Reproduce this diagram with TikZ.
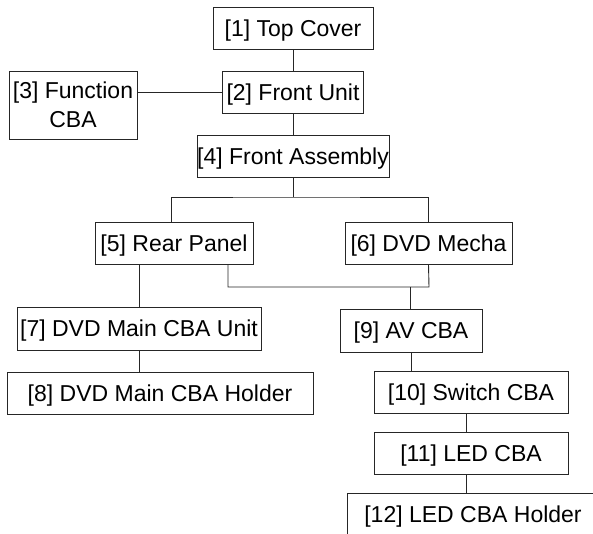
\documentclass[tikz,border=0pt]{standalone}
\usepackage{fontspec}
\setmainfont{Liberation Sans}
\begin{document}
\begin{tikzpicture}[x=1pt,y=-1pt,
  box/.style={draw=black!85, line width=0.9pt, rectangle, inner sep=0pt,
    font=\fontsize{23}{29}\selectfont, text=black, minimum height=42pt,
    text height=16.5pt, text depth=0pt},
  link/.style={draw=black!85, line width=0.9pt}]
\useasboundingbox (0,0) rectangle (593,533);
\clip (0,0) rectangle (593,533);
\node[box, minimum width=160pt] (n1) at (293,28) {[1] Top Cover};
\node[box, minimum width=141pt] (n2) at (293,92) {[2] Front Unit};
\node[box, minimum width=128pt, minimum height=68pt, align=center, text height=, text depth=] (n3) at (73,105) {[3] Function\\CBA};
\node[box, minimum width=192pt] (n4) at (293,156) {[4] Front Assembly};
\node[box, minimum width=158pt] (n5) at (174,243) {[5] Rear Panel};
\node[box, minimum width=167pt] (n6) at (428.5,243) {[6] DVD Mecha};
\node[box, minimum width=244pt, minimum height=43pt] (n7) at (139,328.5) {[7] DVD Main CBA Unit};
\node[box, minimum width=306pt] (n8) at (160,393) {[8] DVD Main CBA Holder};
\node[box, minimum width=142pt, minimum height=43pt] (n9) at (411,330.5) {[9] AV CBA};
\node[box, minimum width=194pt] (n10) at (471,392) {[10] Switch CBA};
\node[box, minimum width=194pt] (n11) at (471,453) {[11] LED CBA};
\node[box, minimum width=252pt] (n12) at (473,514) {[12] LED CBA Holder};

\coordinate (j1) at (293,197);
\coordinate (j2) at (429,287);
\draw[link] (n1.south) -- (n2.north);
\draw[link] (n2.west) -- (n2.west -| n3.east);
\draw[link] (n2.south) -- (n4.north);
\draw[link] (n4.south) -- (j1);
\draw[link] ([xshift=-3pt]n5.north) |- (j1) -| (n6.north);
\draw[link] ([xshift=54pt]n5.south) |- (j2) -- (n6.south);
\draw[link] ([xshift=-1pt]n9.north) -- ([xshift=-1pt]n9.north |- j2);
\draw[link] (n7.north) -- (n7.north |- n5.south);
\draw[link] (n7.south) -- (n7.south |- n8.north);
\draw[link] (n9.south) -- (n9.south |- n10.north);
\draw[link] ([xshift=-5pt]n10.south) -- ([xshift=-5pt]n10.south |- n11.north);
\draw[link] ([xshift=-5pt]n11.south) -- ([xshift=-5pt]n11.south |- n12.north);
\end{tikzpicture}
\end{document}
